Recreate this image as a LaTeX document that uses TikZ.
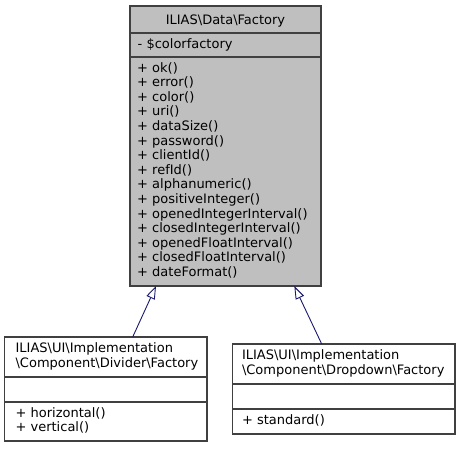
\documentclass[tikz,border=0pt]{standalone}
\usepackage{fontspec}
\setmainfont{DejaVu Sans}
\usetikzlibrary{arrows.meta,calc}
\definecolor{boxgray}{HTML}{BFBFBF}
\definecolor{edgeblue}{HTML}{191970}
\definecolor{frame}{HTML}{404040}
\begin{document}
\begin{tikzpicture}[x=1pt,y=-1pt,
  classbox/.style={draw=frame,line width=1.3pt,anchor=north west,inner sep=0pt,outer sep=0pt},
  sep/.style={draw=frame,line width=1.3pt},
  txt/.style={anchor=base west,inner sep=0pt,font=\fontsize{13}{14.6}\selectfont,align=left},
  ttl/.style={anchor=base,inner sep=0pt,font=\fontsize{13}{14.6}\selectfont},
  inherit/.style={draw=edgeblue,line width=0.9pt,-{Triangle[open,length=13pt,width=9pt,fill=white]}}]
\useasboundingbox (0,0) rectangle (461,448);
% base class
\node[classbox,fill=boxgray,minimum width=191pt,minimum height=280pt] (base) at (130,6) {};
\draw[sep] (130,33) -- (321,33);
\draw[sep] (130,57) -- (321,57);
\node[ttl] (basetitle) at (225.5,24.2) {ILIAS\textbackslash Data\textbackslash Factory};
\node[txt] (baseattr) at (137.5,48.7) {- \$colorfactory};
\node[txt,anchor=north west] (basemeth) at (137,61.6) {\strut + ok()\\+ error()\\+ color()\\+ uri()\\+ dataSize()\\+ password()\\+ clientId()\\+ refId()\\+ alphanumeric()\\+ positiveInteger()\\+ openedIntegerInterval()\\+ closedIntegerInterval()\\+ openedFloatInterval()\\+ closedFloatInterval()\\+ dateFormat()};
% divider factory
\node[classbox,fill=white,minimum width=202.3pt,minimum height=104pt] (divider) at (4.7,337) {};
\draw[sep] (4.7,377) -- (207,377);
\draw[sep] (4.7,402) -- (207,402);
\node[txt] (divtitle) at (15.4,352.7) {ILIAS\textbackslash UI\textbackslash Implementation};
\node[txt] (divtitleb) at (15.4,367.1) {\textbackslash Component\textbackslash Divider\textbackslash Factory};
\node[txt] (divmetha) at (15.4,417.7) {+ horizontal()};
\node[txt] (divmethb) at (15.4,431.9) {+ vertical()};
% dropdown factory
\node[classbox,fill=white,minimum width=222.3pt,minimum height=90pt] (dropdown) at (232.7,344) {};
\draw[sep] (232.7,384) -- (455,384);
\draw[sep] (232.7,409) -- (455,409);
\node[txt] (droptitle) at (241.8,359.7) {ILIAS\textbackslash UI\textbackslash Implementation};
\node[txt] (droptitleb) at (241.8,374.1) {\textbackslash Component\textbackslash Dropdown\textbackslash Factory};
\node[txt] (dropmeth) at (241.8,424.7) {+ standard()};
% inheritance
\coordinate (divtop) at ($(divider.north west)+(128,0)$);
\coordinate (droptop) at ($(dropdown.north west)+(89,0)$);
\coordinate (basel) at ($(base.south west)+(26,0)$);
\coordinate (baser) at ($(base.south west)+(164.3,0)$);
\draw[inherit] (divtop) -- (basel);
\draw[inherit] (droptop) -- (baser);
\end{tikzpicture}
\end{document}
